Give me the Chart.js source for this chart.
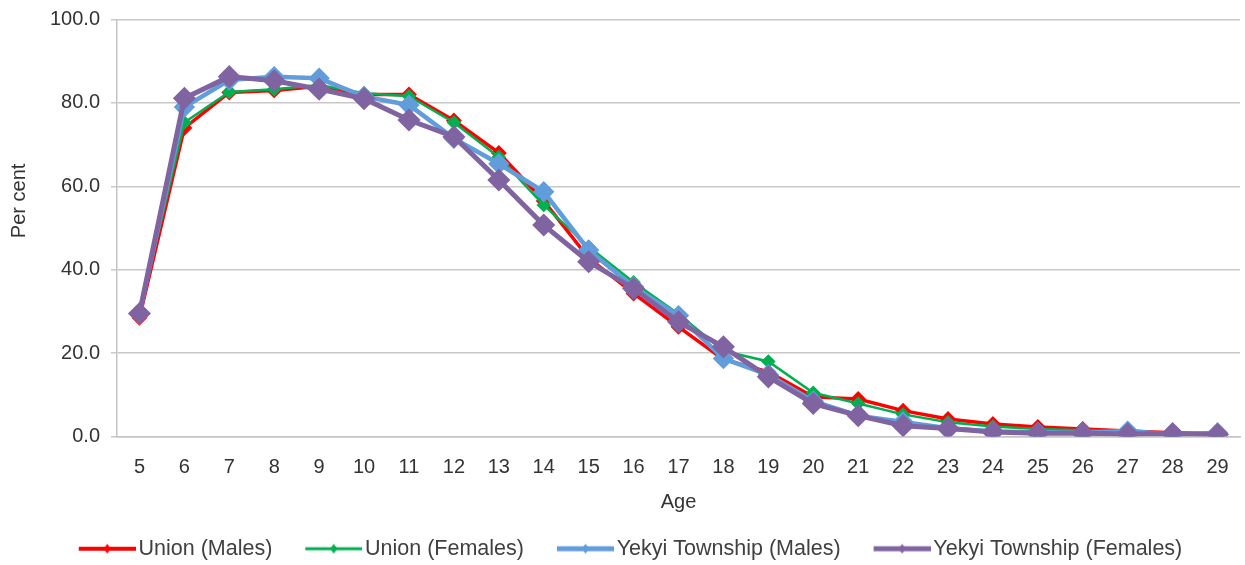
<!DOCTYPE html>
<html>
<head>
<meta charset="utf-8">
<script src="https://cdn.jsdelivr.net/npm/chart.js@4"></script>
<style>
  body { margin: 0; background: #fff; }
</style>
</head>
<body>
<canvas id="myChart" width="1245" height="565"></canvas>
<script>
const ages = ['5','6','7','8','9','10','11','12','13','14','15','16','17','18','19','20','21','22','23','24','25','26','27','28','29'];
const unionMales = [28.5, 74.0, 82.5, 83.0, 84.0, 82.0, 82.0, 75.8, 68.0, 56.5, 42.8, 34.3, 26.3, 18.5, 15.5, 9.5, 9.0, 6.2, 4.2, 3.0, 2.3, 1.8, 1.3, 0.9, 0.6];
const unionFemales = [29.8, 75.3, 82.6, 83.3, 84.3, 82.3, 81.6, 75.3, 67.0, 55.5, 45.5, 37.0, 29.4, 20.5, 18.0, 10.5, 7.9, 5.3, 3.4, 2.4, 1.8, 1.5, 1.2, 0.8, 0.7];
const yekyiMales = [29.5, 79.0, 85.5, 86.3, 85.9, 81.5, 79.5, 71.5, 65.4, 58.7, 44.7, 35.9, 29.0, 18.7, 14.8, 8.5, 5.0, 3.5, 2.0, 1.2, 1.0, 0.9, 1.3, 0.5, 0.9];
const yekyiFemales = [29.5, 81.1, 86.3, 85.3, 83.3, 81.0, 75.9, 71.9, 61.5, 50.7, 41.9, 35.5, 27.5, 21.5, 14.3, 7.9, 5.0, 2.6, 1.9, 1.1, 0.8, 0.8, 0.6, 0.7, 0.5];
const seriesNames = ['Union (Males)', 'Union (Females)', 'Yekyi Township (Males)', 'Yekyi Township (Females)'];
const colors = ['#ff0000', '#00b050', '#629ddb', '#8064a2'];
const yTitle = 'Per cent';
const font = '"Liberation Sans", Arial, sans-serif';

// legend symbol: a line with a small diamond, line ends right next to the text
function legendSymbol(color, lw) {
  const c = document.createElement('canvas');
  c.width = 86; c.height = 14;
  const g = c.getContext('2d');
  g.strokeStyle = color;
  g.lineWidth = lw;
  g.beginPath();
  g.moveTo(29, 7); g.lineTo(86, 7);
  g.stroke();
  g.fillStyle = color;
  g.beginPath();
  g.moveTo(57.5, 2); g.lineTo(61, 7); g.lineTo(57.5, 12); g.lineTo(54, 7);
  g.closePath(); g.fill();
  return c;
}
const symbols = [legendSymbol(colors[0], 4), legendSymbol(colors[1], 3), legendSymbol(colors[2], 5), legendSymbol(colors[3], 5)];

// y title sits a bit above the middle, like the original
const yTitlePlugin = {
  id: 'yTitle',
  afterDraw(chart) {
    const c = chart.ctx;
    const a = chart.chartArea;
    c.save();
    c.translate(19, a.top + (a.bottom - a.top) * 0.435);
    c.rotate(-Math.PI / 2);
    c.font = '20px ' + font;
    c.fillStyle = '#333333';
    c.textAlign = 'center';
    c.textBaseline = 'middle';
    c.fillText(yTitle, 0, 0);
    c.restore();
  }
};

const ctx = document.getElementById('myChart');
new Chart(ctx, {
  type: 'line',
  data: {
    labels: ages,
    datasets: [
      { label: seriesNames[0], data: unionMales, borderColor: colors[0], backgroundColor: colors[0], borderWidth: 3.5, pointStyle: 'rectRot', pointRadius: 5.5, order: 4 },
      { label: seriesNames[1], data: unionFemales, borderColor: colors[1], backgroundColor: colors[1], borderWidth: 2.5, pointStyle: 'rectRot', pointRadius: 5.5, order: 3 },
      { label: seriesNames[2], data: yekyiMales, borderColor: colors[2], backgroundColor: colors[2], borderWidth: 4.5, pointStyle: 'rectRot', pointRadius: 7.5, order: 2 },
      { label: seriesNames[3], data: yekyiFemales, borderColor: colors[3], backgroundColor: colors[3], borderWidth: 5, pointStyle: 'rectRot', pointRadius: 8, order: 1 }
    ]
  },
  plugins: [yTitlePlugin],
  options: {
    responsive: false,
    animation: false,
    layout: { autoPadding: false, padding: { left: 0, right: 5, top: 19.5, bottom: -4.5 } },
    plugins: {
      tooltip: { enabled: false },
      legend: {
        position: 'bottom',
        labels: {
          usePointStyle: true,
          pointStyleWidth: 70,
          padding: 12,
          color: '#404040',
          font: { family: font, size: 21.5 },
          generateLabels: (chart) => seriesNames.map((name, i) => ({
            text: name,
            pointStyle: symbols[i],
            fillStyle: colors[i],
            strokeStyle: colors[i],
            lineWidth: 0,
            fontColor: '#404040',
            hidden: false,
            datasetIndex: i
          }))
        }
      }
    },
    scales: {
      x: {
        offset: true,
        grid: { display: false, drawTicks: false },
        border: { display: true, color: '#c4c4c4', width: 1.5 },
        ticks: { color: '#333333', padding: 19, font: { family: font, size: 20 } },
        title: { display: true, text: 'Age', color: '#333333', padding: { top: 0, bottom: 12 }, font: { family: font, size: 20 } },
        afterFit: (scale) => { scale.height = 89.5; scale.paddingRight = 0; scale.paddingLeft = 0; }
      },
      y: {
        min: 0,
        max: 100,
        grid: { color: '#c8c8c8', lineWidth: 1.5, tickLength: 6, drawTicks: true },
        border: { display: true, color: '#c4c4c4', width: 1.5 },
        ticks: { stepSize: 20, padding: 11, color: '#333333', callback: (v) => v.toFixed(1), font: { family: font, size: 20 } },
        title: { display: false },
        afterFit: (scale) => { scale.width = 117; scale.paddingTop = 0; scale.paddingBottom = 0; }
      }
    }
  }
});
</script>
</body>
</html>
